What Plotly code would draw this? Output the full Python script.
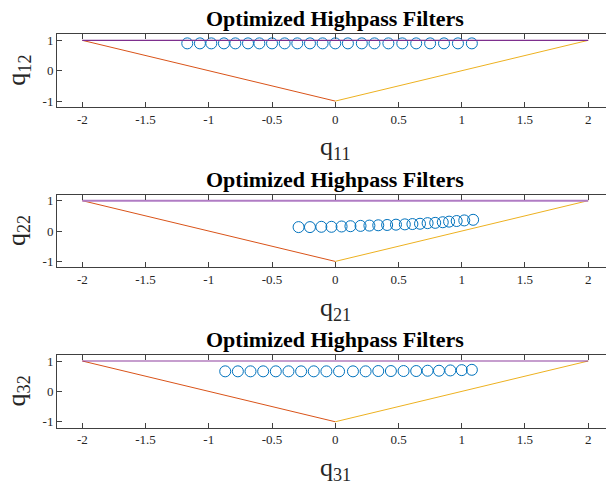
import plotly.graph_objects as go

# Optimized filter coefficients (first vs. second coefficient) for each section
q11 = [-1.17, -1.07, -0.98, -0.88, -0.79, -0.69, -0.60, -0.50, -0.40, -0.30, -0.20, -0.10,
       0.00, 0.10, 0.21, 0.31, 0.42, 0.53, 0.64, 0.75, 0.86, 0.97, 1.08]
q12 = [0.90, 0.90, 0.90, 0.90, 0.90, 0.90, 0.90, 0.90, 0.90, 0.90, 0.90, 0.90,
       0.90, 0.90, 0.90, 0.90, 0.90, 0.90, 0.90, 0.90, 0.90, 0.90, 0.90]

q21 = [-0.29, -0.20, -0.11, -0.03, 0.05, 0.12, 0.20, 0.27, 0.34, 0.41, 0.48, 0.55,
       0.61, 0.67, 0.73, 0.79, 0.85, 0.90, 0.96, 1.02, 1.09]
q22 = [0.13, 0.13, 0.14, 0.14, 0.15, 0.16, 0.17, 0.18, 0.19, 0.20, 0.21, 0.22,
       0.23, 0.24, 0.26, 0.27, 0.29, 0.31, 0.33, 0.35, 0.37]

q31 = [-0.87, -0.77, -0.67, -0.57, -0.47, -0.37, -0.27, -0.17, -0.07, 0.03, 0.14, 0.24,
       0.34, 0.44, 0.54, 0.64, 0.73, 0.82, 0.91, 1.00, 1.08]
q32 = [0.66, 0.66, 0.66, 0.66, 0.66, 0.66, 0.66, 0.66, 0.66, 0.66, 0.66, 0.66,
       0.67, 0.67, 0.67, 0.67, 0.68, 0.68, 0.69, 0.70, 0.71]

# Stability triangle edges
top_edge_x, top_edge_y = [-2, 2], [1, 1]
left_edge_x, left_edge_y = [-2, 0], [1, -1]
right_edge_x, right_edge_y = [0, 2], [-1, 1]

x_tickvals = [-2, -1.5, -1, -0.5, 0, 0.5, 1, 1.5, 2]
x_ticktext = ["-2", "-1.5", "-1", "-0.5", "0", "0.5", "1", "1.5", "2"]
y_tickvals = [-1, 0, 1]
y_ticktext = ["-1", "0", "1"]

title_text = "Optimized Highpass Filters"
x_labels = ["q<sub>11</sub>", "q<sub>21</sub>", "q<sub>31</sub>"]
y_labels = ["q<sub>12</sub>", "q<sub>22</sub>", "q<sub>32</sub>"]

BLUE = "#0072BD"
ORANGE = "#D95319"
YELLOW = "#EDB120"
PURPLES = ["#7E2F8E", "#B07CC4", "#8E3F9E"]
AXIS = "#404040"
FONT = "Times New Roman"

W, H = 606, 486
zero_px = [70, 231, 392]      # vertical pixel of q=0 in each panel
unit_px = 30.5
x_left_px = 57

panels = [(q11, q12), (q21, q22), (q31, q32)]

fig = go.Figure()
annotations = []
for i, (xs, ys) in enumerate(panels):
    n = "" if i == 0 else str(i + 1)
    xa, ya = "x" + n, "y" + n
    fig.add_trace(go.Scatter(x=xs, y=ys, mode="markers", xaxis=xa, yaxis=ya,
                             marker=dict(symbol="circle-open", size=11, color=BLUE,
                                         line=dict(width=1, color=BLUE)),
                             showlegend=False, hoverinfo="skip"))
    fig.add_trace(go.Scatter(x=left_edge_x, y=left_edge_y, mode="lines", xaxis=xa, yaxis=ya,
                             line=dict(color=ORANGE, width=1), showlegend=False))
    fig.add_trace(go.Scatter(x=right_edge_x, y=right_edge_y, mode="lines", xaxis=xa, yaxis=ya,
                             line=dict(color=YELLOW, width=1), showlegend=False))
    fig.add_trace(go.Scatter(x=top_edge_x, y=top_edge_y, mode="lines", xaxis=xa, yaxis=ya,
                             line=dict(color=PURPLES[i], width=2 if i == 1 else 1.2),
                             showlegend=False))

    top_px = zero_px[i] - 1.2 * unit_px
    bot_px = zero_px[i] + 1.2 * unit_px
    ydom = [(H - bot_px) / H, (H - top_px) / H]

    common = dict(showline=True, linecolor=AXIS, linewidth=1, ticks="inside", ticklen=5,
                  tickwidth=1, tickcolor=AXIS, showgrid=False, zeroline=False,
                  tickfont=dict(family=FONT, size=13, color="#262626"))
    fig.layout["xaxis" + n] = dict(domain=[x_left_px / W, 1.0], range=[-2.2, (W - 335) / 126.6],
                                   anchor=ya, mirror="ticks", tickmode="array",
                                   tickvals=x_tickvals, ticktext=x_ticktext, **common)
    fig.layout["yaxis" + n] = dict(domain=ydom, range=[-1.2, 1.2], anchor=xa, mirror=False,
                                   tickmode="array", tickvals=y_tickvals, ticktext=y_ticktext,
                                   **common)

    annotations.append(dict(text="<b>" + title_text + "</b>", xref=xa, x=0, yref="paper",
                            y=(H - (zero_px[i] - 52)) / H, yanchor="middle", showarrow=False,
                            font=dict(family=FONT, size=22, color="black")))
    annotations.append(dict(text=x_labels[i], xref=xa, x=0, yref="paper",
                            y=(H - (zero_px[i] + 78)) / H, yanchor="middle", showarrow=False,
                            font=dict(family=FONT, size=26, color="#262626")))
    annotations.append(dict(text=y_labels[i], xref="paper", x=18 / W, yref="paper",
                            y=(H - zero_px[i]) / H, xanchor="center", yanchor="middle",
                            textangle=-90, showarrow=False,
                            font=dict(family=FONT, size=26, color="#262626")))

fig.update_layout(width=W, height=H, margin=dict(l=0, r=0, t=0, b=0),
                  paper_bgcolor="white", plot_bgcolor="white",
                  annotations=annotations, showlegend=False)

fig.write_html("out.html")
